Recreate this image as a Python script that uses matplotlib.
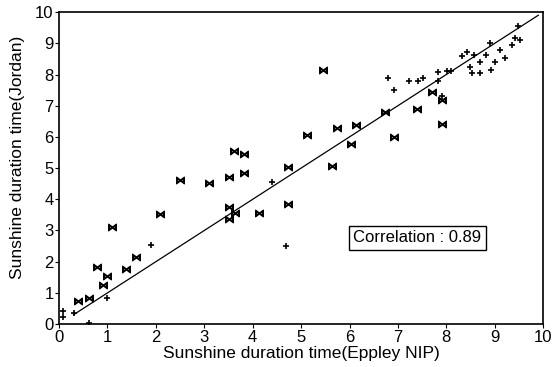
import matplotlib.pyplot as plt
import numpy as np

plt.rcParams['font.family'] = ['Liberation Sans', 'DejaVu Sans']

# hourly points drawn with the bow-tie marker
x_a = [0.40, 0.61, 0.79, 0.90, 1.00, 1.10, 1.38, 1.58, 2.09, 2.50, 3.10, 3.51,
       3.62, 3.83, 3.82, 3.51, 3.64, 3.51, 4.12, 4.72, 4.72, 5.13, 5.45, 5.74,
       6.14, 6.03, 5.63, 6.74, 6.91, 7.40, 7.91, 7.91, 7.70]
y_a = [0.75, 0.85, 1.84, 1.25, 1.55, 3.12, 1.76, 2.14, 3.53, 4.63, 4.53, 4.72,
       5.55, 5.44, 4.83, 3.76, 3.55, 3.36, 3.55, 5.04, 3.85, 6.06, 8.16, 6.27,
       6.38, 5.77, 5.06, 6.79, 6.00, 6.91, 6.41, 7.18, 7.45]

# points drawn with small dots
x_b = [1.00, 1.90, 4.40, 4.69, 0.09, 0.09, 0.31, 0.61, 6.80, 6.92, 7.22, 7.42,
       7.51, 7.82, 8.02, 8.10, 7.82, 8.32, 8.42, 8.58, 8.82, 8.91, 9.11, 9.21,
       9.01, 9.35, 9.42, 9.52, 9.49, 8.49, 8.53, 8.70, 8.70, 8.93, 7.91]
y_b = [0.84, 2.55, 4.56, 2.50, 0.42, 0.23, 0.34, 0.02, 7.88, 7.50, 7.79, 7.80,
       7.90, 8.09, 8.10, 8.10, 7.80, 8.58, 8.72, 8.62, 8.62, 9.00, 8.79, 8.52,
       8.41, 8.94, 9.16, 9.12, 9.55, 8.25, 8.04, 8.04, 8.41, 8.14, 7.30]

line_x = [0.3, 9.9]
correlation = 0.89

fig = plt.figure(figsize=(5.52, 3.67), dpi=100)
ax = fig.add_axes([0.107, 0.117, 0.877, 0.850])

ax.plot(line_x, line_x, color='black', lw=0.9)
ax.scatter(x_a, y_a, marker=r'$\bowtie$', s=32, color='black', linewidths=0.8)
ax.scatter(x_b, y_b, marker='+', s=14, color='black', linewidths=1.2)

ax.set_xlim(0, 10)
ax.set_ylim(0, 10)
ax.set_xticks(np.arange(0, 11, 1))
ax.set_yticks(np.arange(0, 11, 1))
ax.tick_params(direction='out', length=3, labelsize=12, pad=1)
for s in ax.spines.values():
    s.set_linewidth(1.2)

ax.set_xlabel('Sunshine duration time(Eppley NIP)', fontsize=12.5, labelpad=1)
ax.set_ylabel('Sunshine duration time(Jordan)', fontsize=12.5)
ax.yaxis.set_label_coords(-0.07, 0.535)

ax.text(7.4, 2.76, 'Correlation : %.2f' % correlation, fontsize=12,
        ha='center', va='center',
        bbox=dict(boxstyle='square,pad=0.25', fc='white', ec='black', lw=1))

plt.savefig('out.png')
